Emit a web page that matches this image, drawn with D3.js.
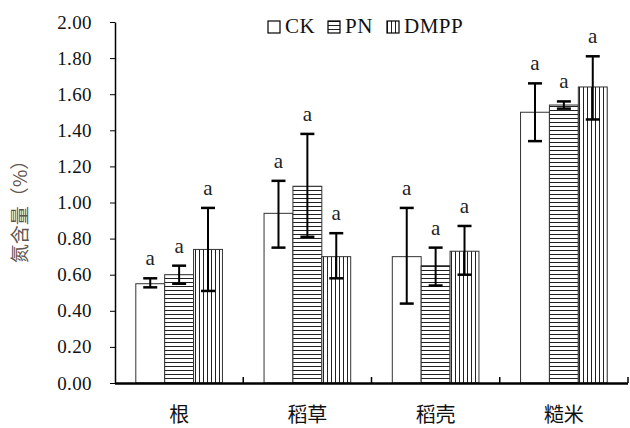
<!DOCTYPE html>
<html>
<head>
<meta charset="utf-8">
<script src="https://cdn.jsdelivr.net/npm/d3@7"></script>
<style>
  body { margin: 0; background: #fff; }
  svg { display: block; }
</style>
</head>
<body>
<div id="chart"></div>
<script>
// data
var categories = ["根", "稻草", "稻壳", "糙米"];
var seriesNames = ["CK", "PN", "DMPP"];
var ckValues   = [0.55, 0.94, 0.70, 1.50];
var ckLow      = [0.53, 0.75, 0.44, 1.34];
var ckHigh     = [0.58, 1.12, 0.97, 1.66];
var pnValues   = [0.60, 1.09, 0.65, 1.54];
var pnLow      = [0.55, 0.81, 0.54, 1.52];
var pnHigh     = [0.65, 1.38, 0.75, 1.56];
var dmppValues = [0.74, 0.70, 0.73, 1.64];
var dmppLow    = [0.51, 0.58, 0.60, 1.46];
var dmppHigh   = [0.97, 0.83, 0.87, 1.81];
var sigLetters = [["a", "a", "a"], ["a", "a", "a"], ["a", "a", "a"], ["a", "a", "a"]];
var yTicks = [0, 0.2, 0.4, 0.6, 0.8, 1.0, 1.2, 1.4, 1.6, 1.8, 2.0];

var serif = "'Liberation Serif', 'Times New Roman', serif";
var cjk = "'Noto Sans CJK SC', sans-serif";

var svgWidth = 630, svgHeight = 428;
var margin = { top: 22, right: 2, bottom: 45, left: 115 };
var chartWidth = svgWidth - margin.left - margin.right;
var chartHeight = 383 - margin.top;

var svg = d3.select("#chart").append("svg")
    .attr("width", svgWidth)
    .attr("height", svgHeight);

// hatch patterns
var defs = svg.append("defs");
var hPat = defs.append("pattern")
    .attr("id", "hLines")
    .attr("patternUnits", "userSpaceOnUse")
    .attr("width", 4).attr("height", 4);
hPat.append("rect").attr("width", 4).attr("height", 4).attr("fill", "#fff");
hPat.append("line").attr("x1", 0).attr("x2", 4).attr("y1", 0.5).attr("y2", 0.5)
    .attr("stroke", "#222").attr("stroke-width", 1);
var vPat = defs.append("pattern")
    .attr("id", "vLines")
    .attr("patternUnits", "userSpaceOnUse")
    .attr("width", 4).attr("height", 4);
vPat.append("rect").attr("width", 4).attr("height", 4).attr("fill", "#fff");
vPat.append("line").attr("y1", 0).attr("y2", 4).attr("x1", 0.5).attr("x2", 0.5)
    .attr("stroke", "#222").attr("stroke-width", 1);

var fills = ["#fff", "url(#hLines)", "url(#vLines)"];

var chartGroup = svg.append("g")
    .attr("transform", `translate(${margin.left}, ${margin.top})`);

var xScale = d3.scaleBand()
    .domain(categories)
    .range([0, chartWidth]);
var xInner = d3.scaleBand()
    .domain(seriesNames)
    .range([0, xScale.bandwidth()])
    .paddingOuter(0.72);
var yScale = d3.scaleLinear()
    .domain([0, 2])
    .range([chartHeight, 0]);

// build rows from arrays
var rows = [];
categories.forEach(function (cat, i) {
    var vals = [ckValues[i], pnValues[i], dmppValues[i]];
    var lows = [ckLow[i], pnLow[i], dmppLow[i]];
    var highs = [ckHigh[i], pnHigh[i], dmppHigh[i]];
    seriesNames.forEach(function (s, j) {
        rows.push({ cat: cat, series: s, j: j, value: vals[j], low: lows[j], high: highs[j], sig: sigLetters[i][j] });
    });
});

// bars
chartGroup.selectAll("rect.bar")
    .data(rows)
    .enter()
    .append("rect")
    .classed("bar", true)
    .attr("x", d => xScale(d.cat) + xInner(d.series))
    .attr("y", d => yScale(d.value))
    .attr("width", xInner.bandwidth())
    .attr("height", d => yScale(0) - yScale(d.value))
    .attr("fill", d => fills[d.j])
    .attr("stroke", "#333")
    .attr("stroke-width", 1);

// error bars
var errG = chartGroup.selectAll("g.err")
    .data(rows)
    .enter()
    .append("g")
    .classed("err", true)
    .attr("transform", d => `translate(${xScale(d.cat) + xInner(d.series) + xInner.bandwidth() / 2}, 0)`);
errG.append("line")
    .attr("x1", 0).attr("x2", 0)
    .attr("y1", d => yScale(d.low)).attr("y2", d => yScale(d.high))
    .attr("stroke", "#000").attr("stroke-width", 2);
errG.append("line")
    .attr("x1", -7).attr("x2", 7)
    .attr("y1", d => yScale(d.low)).attr("y2", d => yScale(d.low))
    .attr("stroke", "#000").attr("stroke-width", 2.5);
errG.append("line")
    .attr("x1", -7).attr("x2", 7)
    .attr("y1", d => yScale(d.high)).attr("y2", d => yScale(d.high))
    .attr("stroke", "#000").attr("stroke-width", 2.5);
errG.append("text")
    .attr("x", 0)
    .attr("y", d => yScale(d.high) - 13)
    .attr("text-anchor", "middle")
    .attr("font-family", serif)
    .attr("font-size", "21px")
    .attr("fill", "#222")
    .text(d => d.sig);

// y axis
var yAxis = d3.axisLeft(yScale)
    .tickValues(yTicks)
    .tickFormat(d3.format(".2f"))
    .tickSizeInner(5)
    .tickSizeOuter(0)
    .tickPadding(18);
var yG = chartGroup.append("g").call(yAxis);
yG.select(".domain").attr("stroke", "#000").attr("stroke-width", 1.5);
yG.selectAll(".tick line").attr("stroke", "#000");
yG.selectAll(".tick text")
    .attr("font-family", serif)
    .attr("font-size", "19px")
    .attr("letter-spacing", "0.4px")
    .attr("fill", "#111");

// x axis, ticks pointing into the plot at group boundaries
var xG = chartGroup.append("g")
    .attr("transform", `translate(0, ${chartHeight})`);
xG.append("line")
    .attr("x1", 0).attr("x2", chartWidth)
    .attr("y1", 0.5).attr("y2", 0.5)
    .attr("stroke", "#000").attr("stroke-width", 2.5);
xG.selectAll("line.xtick")
    .data(categories)
    .enter()
    .append("line")
    .classed("xtick", true)
    .attr("x1", d => xScale(d) + xScale.bandwidth())
    .attr("x2", d => xScale(d) + xScale.bandwidth())
    .attr("y1", 0).attr("y2", -6)
    .attr("stroke", "#000").attr("stroke-width", 1.5);
xG.selectAll("text.xlabel")
    .data(categories)
    .enter()
    .append("text")
    .classed("xlabel", true)
    .attr("x", d => xScale(d) + xScale.bandwidth() / 2)
    .attr("y", 39)
    .attr("text-anchor", "middle")
    .attr("font-family", cjk)
    .attr("font-size", "20px")
    .attr("fill", "#111")
    .text(d => d);

// y axis title
svg.append("text")
    .attr("transform", "translate(27, 207) rotate(-90)")
    .attr("text-anchor", "middle")
    .attr("font-family", cjk)
    .attr("font-size", "19px")
    .attr("fill", "#5f5650")
    .text("氮含量（%）");

// legend
var legendX = [268, 328, 387];
var legend = svg.selectAll("g.legend")
    .data(seriesNames)
    .enter()
    .append("g")
    .classed("legend", true)
    .attr("transform", (d, i) => `translate(${legendX[i]}, 21)`);
legend.append("rect")
    .attr("width", 12).attr("height", 12)
    .attr("fill", (d, i) => fills[i])
    .attr("stroke", "#000").attr("stroke-width", 1.2);
legend.append("text")
    .attr("x", 17).attr("y", 12)
    .attr("font-family", serif)
    .attr("font-size", "21px")
    .attr("letter-spacing", "0.5px")
    .attr("fill", "#111")
    .text(d => d);
</script>
</body>
</html>
